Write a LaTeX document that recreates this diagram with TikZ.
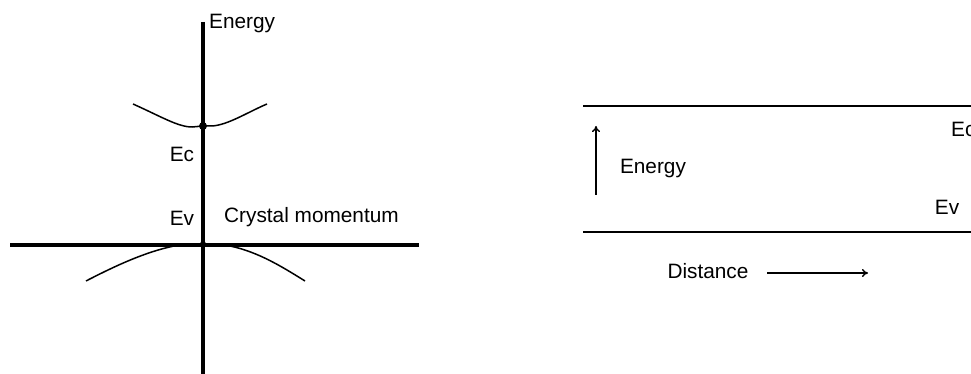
\documentclass[tikz,border=0pt]{standalone}
\usepackage{fontspec}
\setmainfont{Liberation Sans}
\usetikzlibrary{arrows.meta}
\begin{document}
\begin{tikzpicture}[x=1pt,y=-1pt,
  axis/.style={line width=3.2pt},
  band/.style={line width=1.5pt},
  level/.style={line width=2pt},
  dirarrow/.style={line width=1.4pt,-{To[length=6pt,width=8pt]}},
  lbl/.style={inner sep=0pt,font=\fontsize{20.8}{24}\selectfont}]
\useasboundingbox (0,0) rectangle (971,374);
% left panel
\coordinate (vtop) at (203,22);
\coordinate (vbot) at (203,376);
\coordinate (hl) at (10,245);
\coordinate (hr) at (419,245);
\draw[axis] (vtop) -- (vbot);
\draw[axis] (hl) -- (hr);
\coordinate (ec) at (203,126);
\coordinate (ev) at (203,244);
\fill (ec) circle (4pt);
\fill (ev) circle (3pt);
% conduction band
\draw[band] (133,104) .. controls (160,116) and (178,127) .. (192,127) -- (ec);
\draw[band] (ec) -- (212,126) .. controls (228,125) and (248,112) .. (267,104);
% valence band
\draw[band] (86,281) .. controls (115,266) and (145,252) .. (174,246);
\draw[band] (230,246) .. controls (259,252) and (284,268) .. (305,281);
\node[lbl,anchor=west] (energyL) at (209,24) {Energy};
\node[lbl] (ecL) at (182,154) {Ec};
\node[lbl] (evL) at (182,218) {Ev};
\node[lbl,anchor=west] (cm) at (224,217) {Crystal momentum};
% right panel
\coordinate (t1) at (583,106);
\coordinate (t2) at (975,106);
\coordinate (b1) at (583,232);
\coordinate (b2) at (975,232);
\draw[level] (t1) -- (t2);
\draw[level] (b1) -- (b2);
\coordinate (ea1) at (596,195);
\coordinate (ea2) at (596,126);
\draw[dirarrow] (ea1) -- (ea2);
\node[lbl] (energyR) at (653,169) {Energy};
\node[lbl,anchor=west] (ecR) at (951,129) {Ec};
\node[lbl] (evR) at (947,207) {Ev};
\node[lbl] (dist) at (708,271) {Distance};
\coordinate (da1) at (767,273);
\coordinate (da2) at (868,273);
\draw[dirarrow] (da1) -- (da2);
\end{tikzpicture}
\end{document}
